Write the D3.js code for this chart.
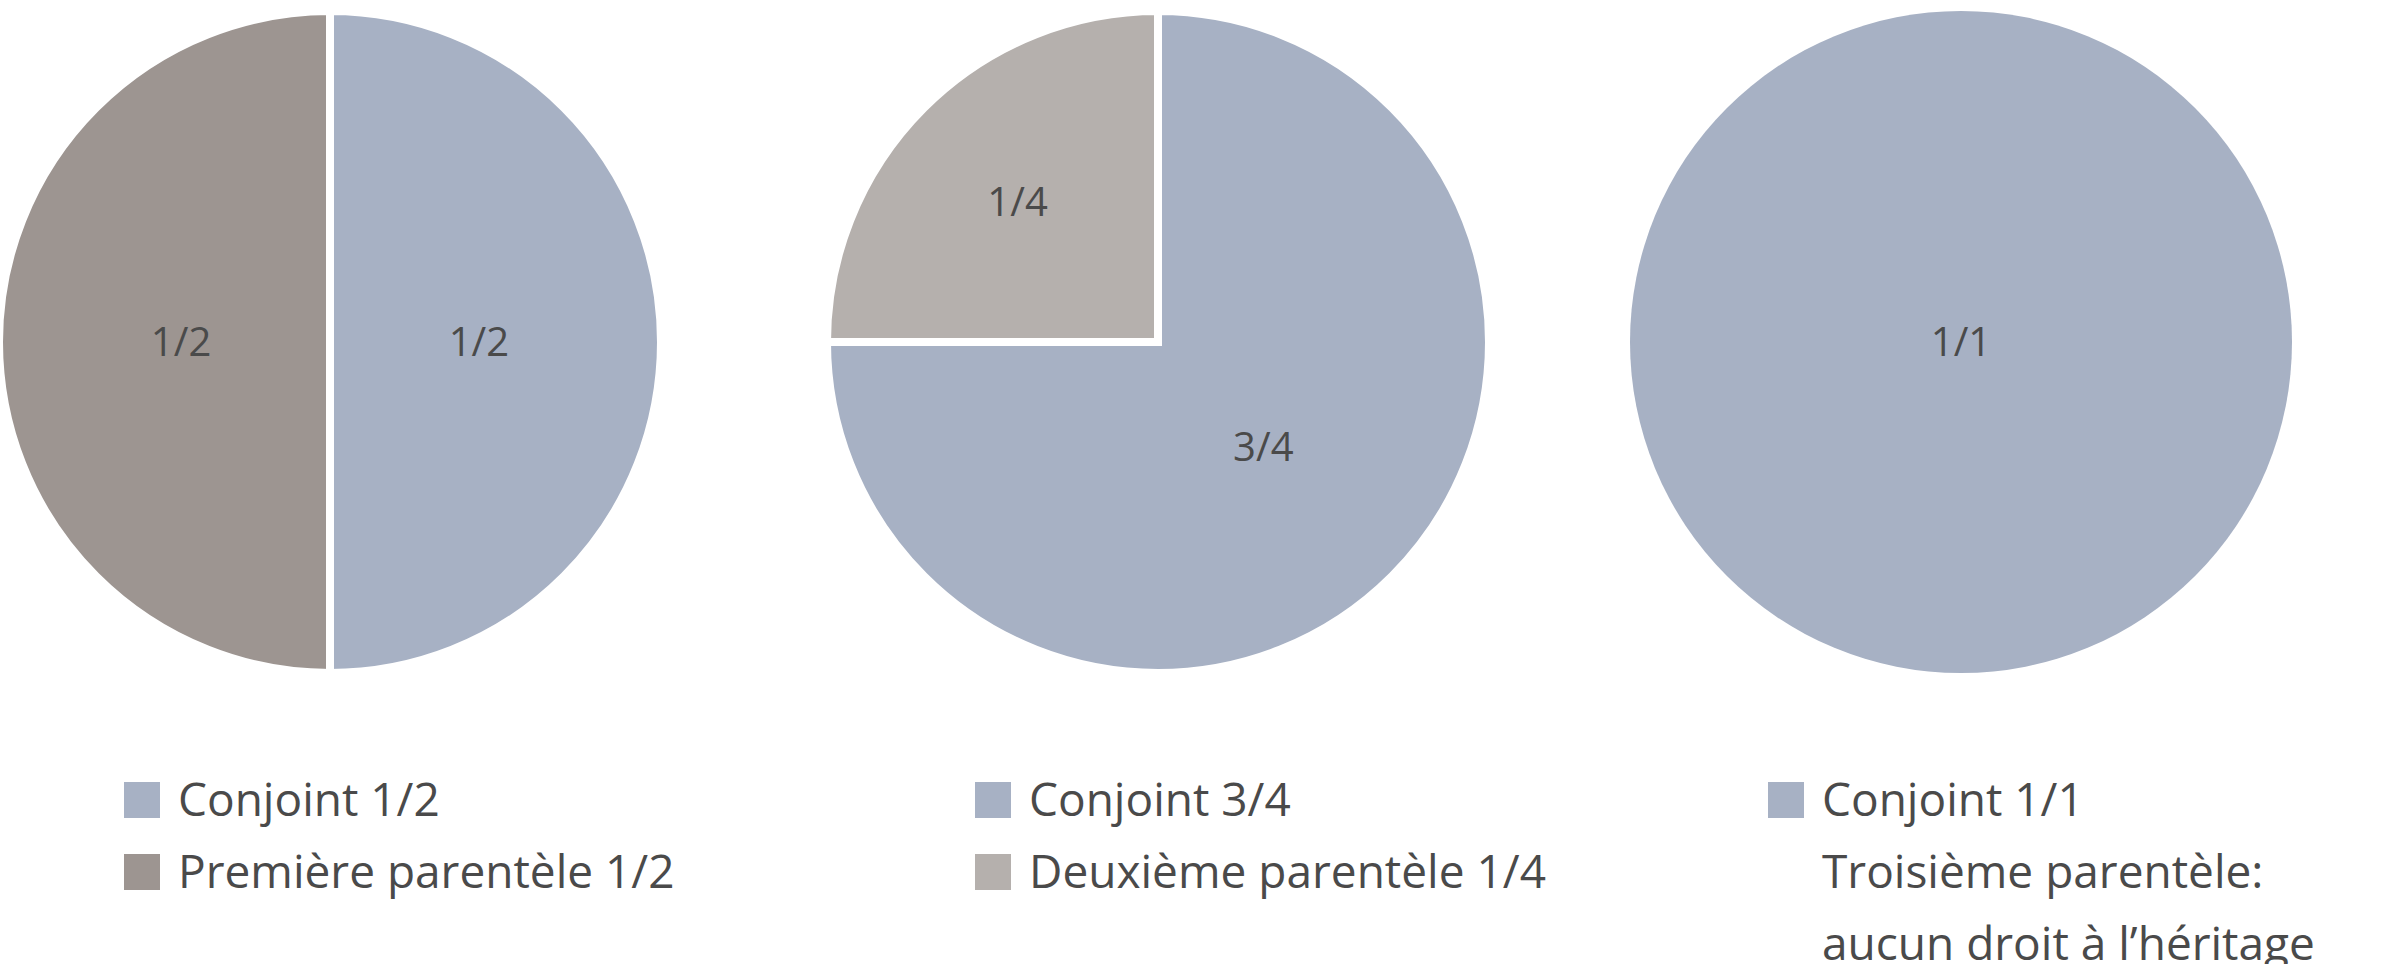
<!DOCTYPE html>
<html><head><meta charset="utf-8">
<script src="https://cdn.jsdelivr.net/npm/d3@7"></script>
<style>body{margin:0;background:#fff}text{font-family:"Open Sans",sans-serif;fill:#4a4a4a}</style>
</head><body><svg id="chart" width="2400" height="964"></svg>
<script>
// data
const pie1 = [{name: "Conjoint", value: 1/2, label: "1/2"}, {name: "Première parentèle", value: 1/2, label: "1/2"}];
const pie2 = [{name: "Conjoint", value: 3/4, label: "3/4"}, {name: "Deuxième parentèle", value: 1/4, label: "1/4"}];
const pie3 = [{name: "Conjoint", value: 1, label: "1/1"}];
const legends = [
  [{text: "Conjoint 1/2", color: "#a7b1c4"}, {text: "Première parentèle 1/2", color: "#9d9591"}],
  [{text: "Conjoint 3/4", color: "#a7b1c4"}, {text: "Deuxième parentèle 1/4", color: "#b5b0ad"}],
  [{text: "Conjoint 1/1", color: "#a7b1c4"}, {text: "Troisième parentèle:", color: null}, {text: "aucun droit à l’héritage", color: null}]
];
const colors = {"Conjoint": "#a7b1c4", "Première parentèle": "#9d9591", "Deuxième parentèle": "#b5b0ad"};

const svg = d3.select("#chart");
const r = 331, cy = 342;
const centers = [330, 1158, 1961];

const pie = d3.pie().sort(null).value(d => d.value);
const arc = d3.arc().innerRadius(0).outerRadius(r);
// label distance from centre: small slices a bit further out
const labelPos = d => {
  const k = d.data.value <= 0.25 ? 0.6 : 0.45;
  return d3.arc().innerRadius(r * k).outerRadius(r * k).centroid(d);
};

[pie1, pie2, pie3].forEach((data, i) => {
  const g = svg.append("g").attr("transform", `translate(${centers[i]},${cy})`);
  const arcs = pie(data);
  g.selectAll("path").data(arcs).join("path")
    .attr("d", arc)
    .attr("fill", d => colors[d.data.name])
    .attr("stroke", arcs.length > 1 ? "#fff" : "none")
    .attr("stroke-width", 8);
  g.selectAll("text").data(arcs).join("text")
    .attr("transform", d => arcs.length > 1 ? `translate(${labelPos(d)})` : "translate(0,0)")
    .attr("text-anchor", "middle")
    .attr("dy", "0.35em")
    .style("font-size", "40px")
    .text(d => d.data.label);
});

// legends
const legendX = [124, 975, 1768];
legends.forEach((items, i) => {
  const g = svg.append("g").attr("transform", `translate(${legendX[i]},0)`);
  items.forEach((it, j) => {
    const y = 800 + j * 72;
    if (it.color) g.append("rect").attr("x", 0).attr("y", y - 18).attr("width", 36).attr("height", 36).attr("fill", it.color);
    g.append("text").attr("x", 54).attr("y", y).attr("dy", "0.35em")
      .style("font-size", "46px").text(it.text);
  });
});
</script></body></html>
